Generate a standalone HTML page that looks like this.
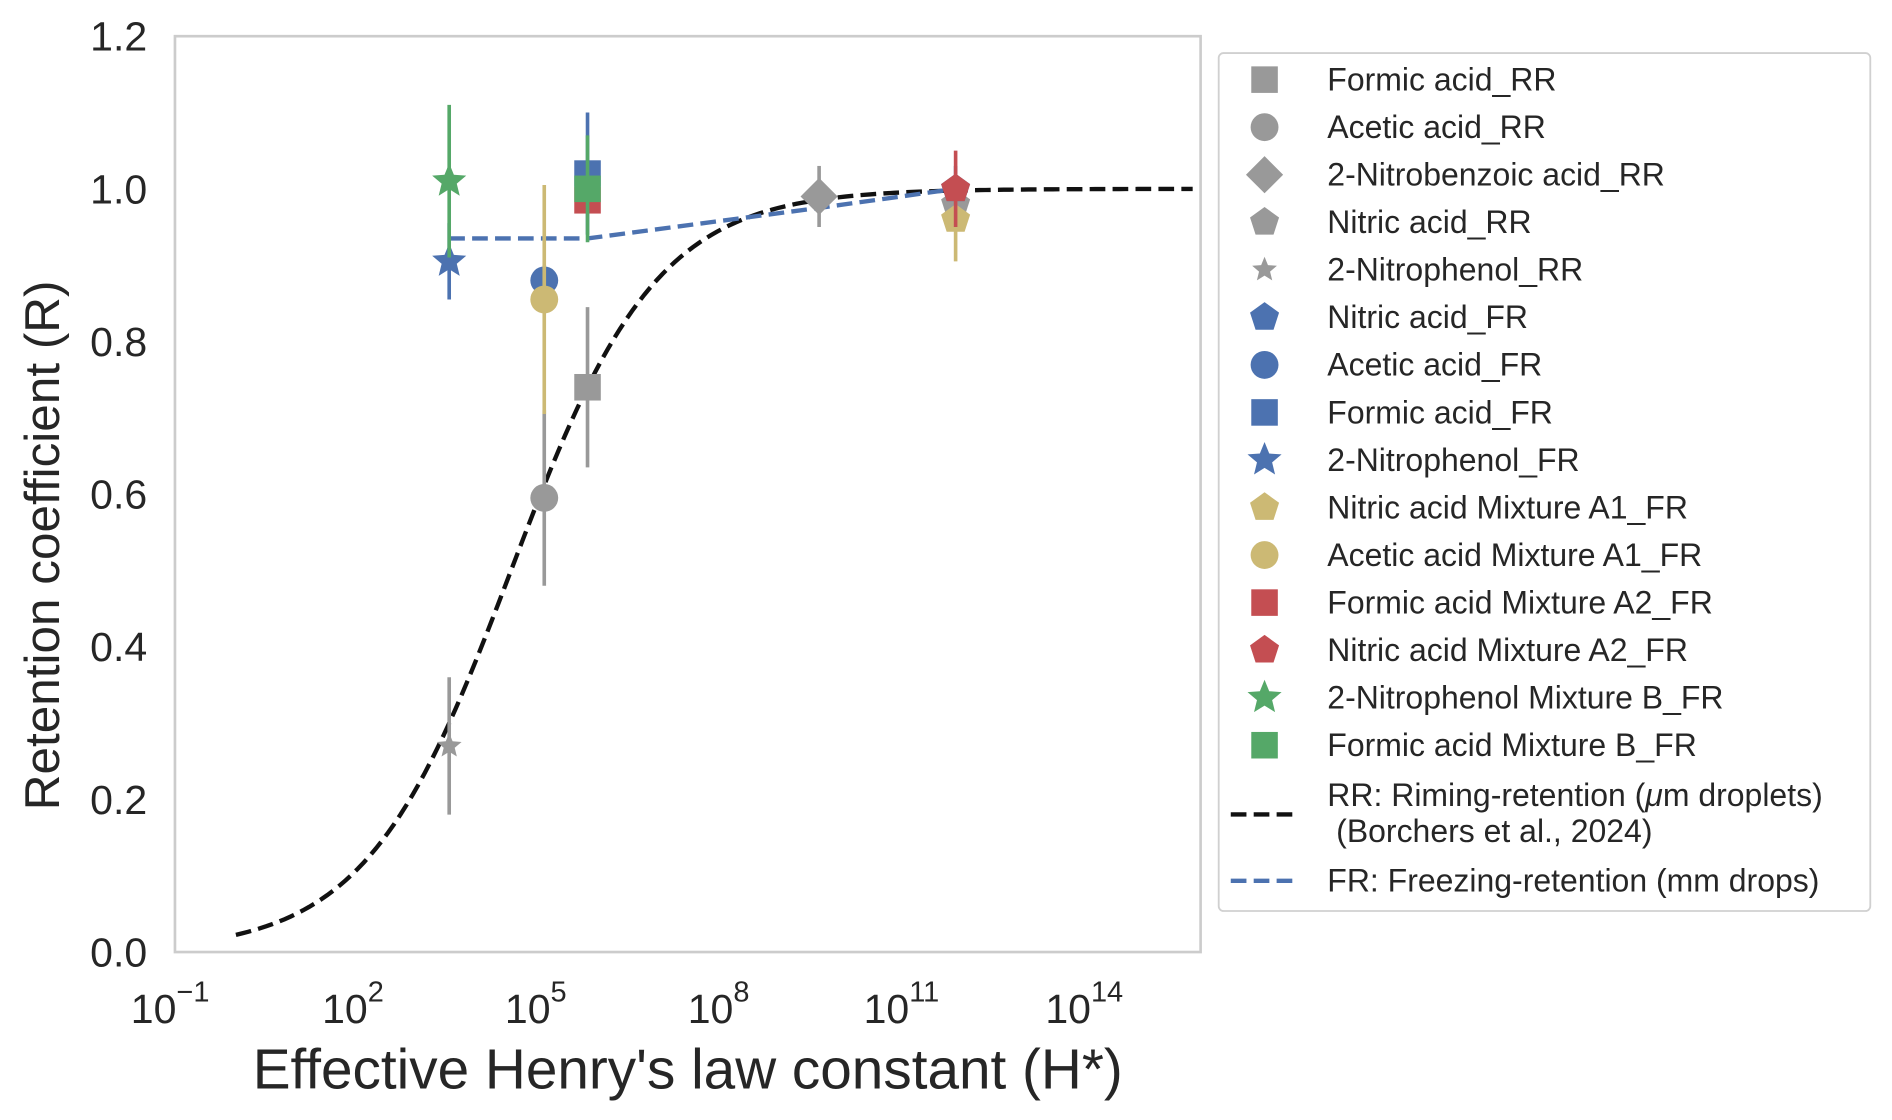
<!DOCTYPE html>
<html><head><meta charset="utf-8"><style>
html,body{margin:0;padding:0;background:#fff;}
svg{display:block;font-family:"Liberation Sans",Arial,sans-serif;}
</style></head><body>
<svg id="chart" width="1892" height="1120" viewBox="0 0 1568 928.2" preserveAspectRatio="none" xmlns="http://www.w3.org/2000/svg">
<rect x="0" y="0" width="1568" height="928.2" fill="#fff"/>
<g id="plot"></g>
<g id="axes"></g>
<g id="legend"></g>
</svg>
<script>
const seriesNames = ["Formic acid_RR","Acetic acid_RR","2-Nitrobenzoic acid_RR","Nitric acid_RR","2-Nitrophenol_RR","Nitric acid_FR","Acetic acid_FR","Formic acid_FR","2-Nitrophenol_FR","Nitric acid Mixture A1_FR","Acetic acid Mixture A1_FR","Formic acid Mixture A2_FR","Nitric acid Mixture A2_FR","2-Nitrophenol Mixture B_FR","Formic acid Mixture B_FR"];
const logH = [5.77,5.06,9.57,11.81,3.5,11.81,5.06,5.77,3.5,11.81,5.06,5.77,11.81,3.5,5.77];
const rValues = [0.74,0.595,0.99,0.98,0.27,1.0,0.88,1.02,0.905,0.96,0.855,0.985,1.0,1.01,1.0];
const rErrors = [0.105,0.115,0.04,0.015,0.09,0.03,0.02,0.08,0.05,0.055,0.15,0.01,0.05,0.1,0.07];
const seriesColors = ["#999999","#999999","#999999","#999999","#999999","#4c72b0","#4c72b0","#4c72b0","#4c72b0","#ccb974","#ccb974","#c44e52","#c44e52","#55a868","#55a868"];
const seriesMarkers = ["s","o","D","p","*","p","o","s","*","p","o","s","p","*","s"];
const rrParams = [0.835,4.515];
const frLogH = [3.5,5.77,9.57,11.81];
const frValues = [0.935,0.935,0.975,1.0];
const yTicks = [0,0.2,0.4,0.6,0.8,1.0,1.2];
const xTickExps = [-1,2,5,8,11,14];

const NS="http://www.w3.org/2000/svg";
const L=145,R=995,T=30,B=789;
const xMin=-1,xMax=15.83;
function xs(lg){return L+(lg-xMin)/(xMax-xMin)*(R-L);}
function ys(v){return B-(v/1.2)*(B-T);}
function mk(tag,attrs,parent){const e=document.createElementNS(NS,tag);for(const k in attrs)e.setAttribute(k,attrs[k]);parent.appendChild(e);return e;}
const plot=document.getElementById('plot'),axes=document.getElementById('axes'),legend=document.getElementById('legend');

function markerShape(type,cx,cy,s,color,parent){
  let e;
  if(type==="s"){e=mk('rect',{x:cx-s,y:cy-s,width:2*s,height:2*s,fill:color},parent);}
  else if(type==="o"){e=mk('circle',{cx:cx,cy:cy,r:s*1.05,fill:color},parent);}
  else if(type==="D"){e=mk('polygon',{points:`${cx},${cy-s*1.4} ${cx+s*1.4},${cy} ${cx},${cy+s*1.4} ${cx-s*1.4},${cy}`,fill:color},parent);}
  else if(type==="p"){let p=[];for(let i=0;i<5;i++){const a=-Math.PI/2+i*2*Math.PI/5;p.push((cx+s*1.15*Math.cos(a)).toFixed(2)+","+(cy+s*1.15*Math.sin(a)).toFixed(2));}e=mk('polygon',{points:p.join(" "),fill:color},parent);}
  else {let p=[];for(let i=0;i<10;i++){const a=-Math.PI/2+i*Math.PI/5;const r=i%2?s*0.6:s*1.35;p.push((cx+r*Math.cos(a)).toFixed(2)+","+(cy+r*Math.sin(a)).toFixed(2));}e=mk('polygon',{points:p.join(" "),fill:color},parent);}
  return e;
}

const frame=mk('rect',{x:L,y:T,width:R-L,height:B-T,fill:"none",stroke:"#cccccc","stroke-width":2.2},axes);


yTicks.forEach(v=>{
  const t=mk('text',{x:122,y:ys(v)+12,"text-anchor":"end","font-size":34,fill:"#262626"},axes);
  t.textContent=v.toFixed(1);
  
  
});
xTickExps.forEach(ex=>{
  const t=mk('text',{x:xs(ex)-4,y:848,"text-anchor":"middle","font-size":34,fill:"#262626"},axes);
  t.textContent="10";
  const s=mk('tspan',{dy:-18,"font-size":24},t);
  s.textContent=String(ex).replace("-","\u2212");
  
  
});
const xt=mk('text',{x:570,y:902,"text-anchor":"middle","font-size":47,fill:"#262626"},axes);
xt.textContent="Effective Henry's law constant (H*)";


const yt=mk('text',{x:0,y:0,"text-anchor":"middle","font-size":41,fill:"#262626",transform:"translate(49,452) rotate(-90)"},axes);
yt.textContent="Retention coefficient (R)";



let pts=[];
for(let lg=0;lg<=15.7;lg+=0.1){const v=1/(1+Math.exp(-rrParams[0]*(lg-rrParams[1])));pts.push(xs(lg).toFixed(2)+","+ys(v).toFixed(2));}
const rr=mk('polyline',{points:pts.join(" "),fill:"none",stroke:"#111","stroke-width":3.6,"stroke-dasharray":"13,6"},plot);


const fr=mk('polyline',{points:frLogH.map((l,i)=>xs(l).toFixed(2)+","+ys(frValues[i]).toFixed(2)).join(" "),fill:"none",stroke:"#4c72b0","stroke-width":3.6,"stroke-dasharray":"13,6"},plot);



seriesNames.forEach((n,i)=>{
  const g=mk('g',{},plot);
  
  
  const cx=xs(logH[i]),cy=ys(rValues[i]);
  mk('line',{x1:cx,x2:cx,y1:ys(rValues[i]-rErrors[i]),y2:ys(rValues[i]+rErrors[i]),stroke:seriesColors[i],"stroke-width":3},g);
  const s=seriesMarkers[i]==="*"&&i===4?8:11;
  markerShape(seriesMarkers[i],cx,cy,s,seriesColors[i],g);
});

const lb=mk('rect',{x:1010,y:44,width:540,height:711,rx:4,fill:"#fff",stroke:"#d0d0d0","stroke-width":1.5},legend);


seriesNames.forEach((n,i)=>{
  const y=66+i*39.4;
  const g=mk('g',{},legend);
  
  
  markerShape(seriesMarkers[i],1048,y,i===4?8:11,seriesColors[i],g);
  const t=mk('text',{x:1100,y:y+9,"font-size":26.5,fill:"#262626"},g);
  t.textContent=n;
});
const g1=mk('g',{},legend);


mk('line',{x1:1020,x2:1077,y1:675,y2:675,stroke:"#111","stroke-width":3.6,"stroke-dasharray":"13,6"},g1);
const t1=mk('text',{x:1100,y:668,"font-size":26.5,fill:"#262626"},g1);
t1.textContent="RR: Riming-retention (";
const mu=mk('tspan',{"font-style":"italic"},t1);mu.textContent="\u03bc";
const rest=mk('tspan',{},t1);rest.textContent="m droplets)";
const t2=mk('text',{x:1100,y:698,"font-size":26.5,fill:"#262626"},g1);
t2.textContent="\u00a0(Borchers et al., 2024)";
const g2=mk('g',{},legend);


mk('line',{x1:1020,x2:1077,y1:730,y2:730,stroke:"#4c72b0","stroke-width":3.6,"stroke-dasharray":"13,6"},g2);
const t3=mk('text',{x:1100,y:739,"font-size":26.5,fill:"#262626"},g2);
t3.textContent="FR: Freezing-retention (mm drops)";
</script>
</body></html>
